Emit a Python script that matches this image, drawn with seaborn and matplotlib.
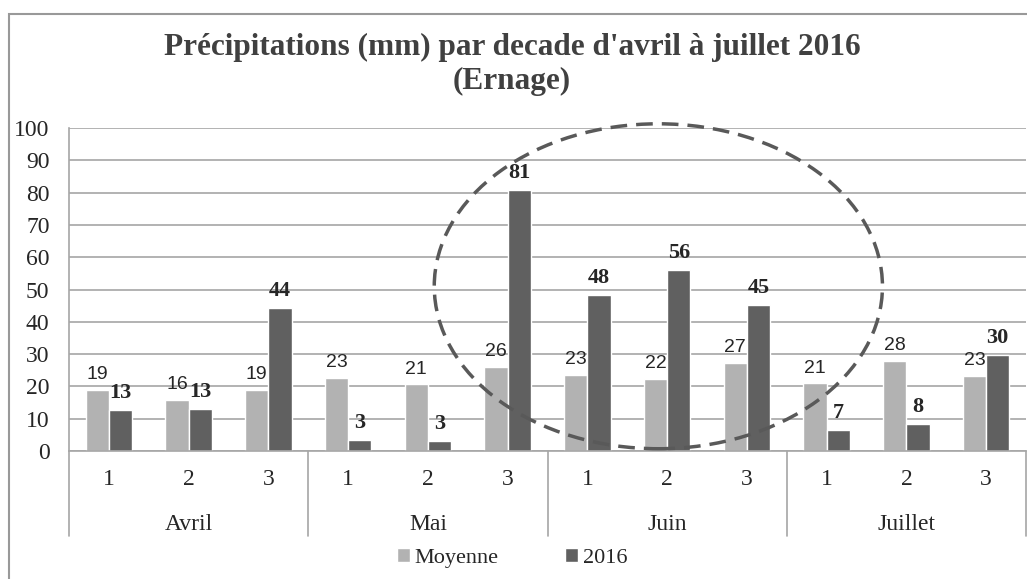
import matplotlib
matplotlib.use("Agg")
import matplotlib.pyplot as plt
from matplotlib.patches import Ellipse, Patch, Rectangle
from matplotlib.lines import Line2D
import seaborn as sns
import pandas as pd

# --- data ---
mois = ["Avril", "Mai", "Juin", "Juillet"]
decades = ["1", "2", "3"]
moyenne = [18.8, 15.9, 18.9, 22.6, 20.6, 26.0, 23.4, 22.4, 27.3, 20.9, 27.8, 23.1]
annee_2016 = [12.8, 13.1, 44.4, 3.3, 3.1, 80.9, 48.3, 56.1, 45.1, 6.6, 8.3, 29.6]
series = ["Moyenne", "2016"]
couleurs = ["#b2b2b2", "#606060"]

cats = [f"{m} {d}" for m in mois for d in decades]
df = pd.DataFrame({
    "cat": cats * 2,
    "val": moyenne + annee_2016,
    "serie": [series[0]] * len(cats) + [series[1]] * len(cats),
})

sns.set_style("white")
plt.rcParams["font.family"] = ["Liberation Serif", "DejaVu Serif"]

W, H = 1027, 579
fig = plt.figure(figsize=(W / 100, H / 100), dpi=100)
# plot area in pixels: left 69, right 1026, top 128, bottom 451
ax = fig.add_axes([69 / W, (H - 451) / H, (1026 - 69) / W, (451 - 128) / H])

sns.barplot(data=df, x="cat", y="val", hue="serie", order=cats, hue_order=series,
            palette=couleurs, width=0.58, saturation=1, legend=False, ax=ax)

ax.set_xlim(-0.5, len(cats) - 0.5)
ax.set_ylim(0, 100)
ax.set_yticks(range(0, 101, 10))
ax.yaxis.grid(True, color="#a6a6a6", linewidth=1.2)
ax.set_axisbelow(True)
for s in ["top", "right"]:
    ax.spines[s].set_visible(False)
for s in ["left", "bottom"]:
    ax.spines[s].set_color("#a6a6a6")
    ax.spines[s].set_linewidth(1.2)
ax.set_xlabel("")
ax.set_ylabel("")
ax.set_xticks(range(len(cats)), [d for m in mois for d in decades])
ax.tick_params(axis="y", length=0, pad=14, labelsize=17)
ax.tick_params(axis="x", length=0, pad=13, labelsize=17)

# value labels
ax.bar_label(ax.containers[0], labels=[f"{v:.0f}" for v in moyenne], padding=5,
             fontsize=14, family="Liberation Sans")
ax.bar_label(ax.containers[1], labels=[f"{v:.0f}" for v in annee_2016], padding=5,
             fontsize=16, fontweight="bold")

# second level of the category axis
for k in range(len(mois) + 1):
    ax.add_line(Line2D([k * 3 - 0.5] * 2, [0, -(536 - 451) / 323], transform=ax.get_xaxis_transform(),
                       color="#a6a6a6", lw=1.2, clip_on=False))
for k, m in enumerate(mois):
    ax.text(k * 3 + 1, -(525 - 451) / 323, m, transform=ax.get_xaxis_transform(),
            ha="center", va="center", fontsize=17)

# dashed ellipse around mid-May to June
ax.add_patch(Ellipse((6.89, 51), 5.62, 100.6, fill=False, ec="#595959", lw=2.5,
                     ls=(0, (4.8, 2.6)), clip_on=False, zorder=5))

fig.suptitle("Précipitations (mm) par decade d'avril à juillet 2016\n(Ernage)",
             x=512 / W, y=1 - 33 / H, fontsize=22.5, fontweight="bold", color="#404040",
             linespacing=1.2, va="top")

handles = [Patch(facecolor=c) for c in couleurs]
fig.legend(handles, series, loc="center", bbox_to_anchor=(512 / W, (H - 558) / H), ncol=2,
           frameon=False, fontsize=16, handlelength=0.6, handleheight=0.6,
           handletextpad=0.2, columnspacing=3.0)

# chart border (cropped at right and bottom)
fig.patches.append(Rectangle((9 / W, -0.1), 1.2, 1 - 14 / H + 0.1, transform=fig.transFigure,
                             fill=False, ec="#999999", lw=1.5))

fig.savefig("out.png", dpi=100)
